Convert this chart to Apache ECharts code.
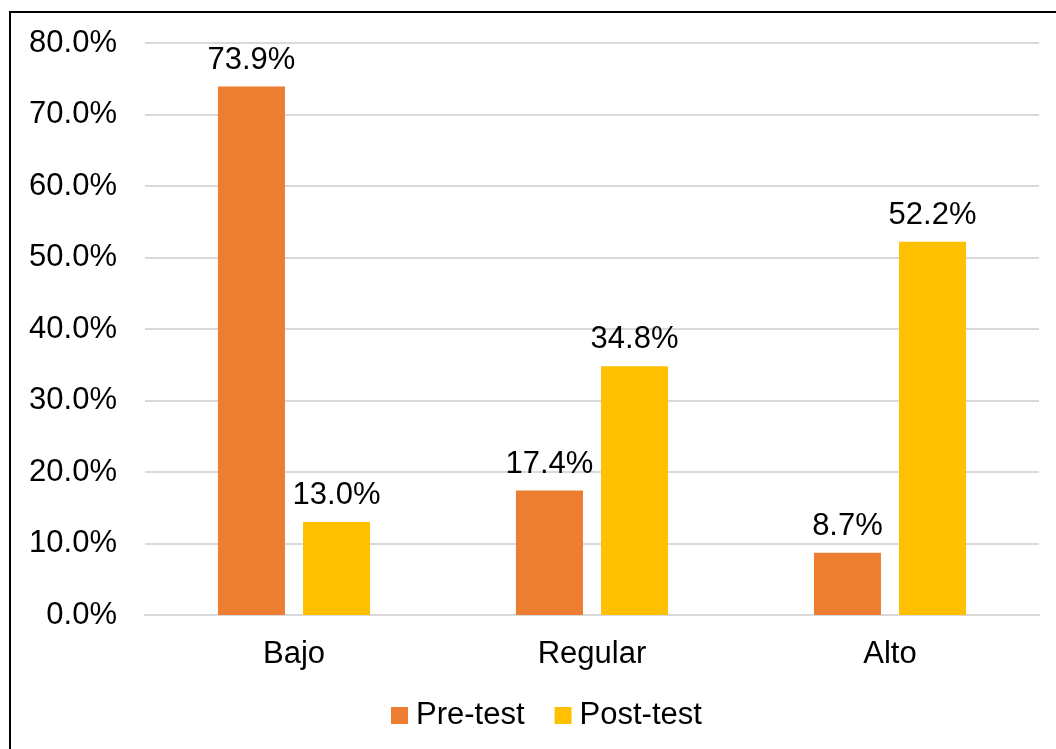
<!DOCTYPE html>
<html>
<head>
<meta charset="utf-8">
<script src="https://cdn.jsdelivr.net/npm/echarts@6/dist/echarts.min.js"></script>
<style>
  html, body { margin: 0; padding: 0; background: #fff; overflow: hidden; }
  #frame { position: absolute; left: 9px; top: 11px; width: 1200px; height: 900px; border: 2px solid #000; }
  #main { position: absolute; left: 0; top: 0; width: 1056px; height: 749px; }
</style>
</head>
<body>
<div id="frame"></div>
<div id="main"></div>
<script>
// datos del gráfico
const categories = ['Bajo', 'Regular', 'Alto'];
const seriesNames = ['Pre-test', 'Post-test'];
const preTest = [73.9, 17.4, 8.7];
const postTest = [13.0, 34.8, 52.2];

const chart = echarts.init(document.getElementById('main'));
const font = 'Liberation Sans, Arial, sans-serif';

const labelStyle = {
  show: true,
  position: 'top',
  distance: 11,
  color: '#000',
  fontFamily: font,
  fontSize: 31,
  formatter: p => p.value.toFixed(1) + '%'
};

chart.setOption({
  animation: false,
  grid: { left: 145, right: 17, top: 43, bottom: 134 },
  legend: {
    bottom: 13,
    left: 386,
    itemWidth: 17,
    itemHeight: 17,
    itemGap: 30,
    icon: 'rect',
    textStyle: { color: '#000', fontFamily: font, fontSize: 31, padding: [0, 0, 0, 3] },
    data: seriesNames
  },
  xAxis: {
    type: 'category',
    data: categories,
    axisLine: { show: true, lineStyle: { color: '#d9d9d9', width: 2 } },
    axisTick: { show: false },
    axisLabel: { color: '#000', fontFamily: font, fontSize: 31, margin: 24 }
  },
  yAxis: {
    type: 'value',
    min: 0,
    max: 80,
    interval: 10,
    axisLine: { show: false },
    axisTick: { show: false },
    splitLine: { lineStyle: { color: '#d9d9d9', width: 2 } },
    axisLabel: {
      color: '#000', fontFamily: font, fontSize: 31, margin: 28,
      formatter: v => v.toFixed(1) + '%'
    }
  },
  series: [
    {
      name: seriesNames[0],
      type: 'bar',
      data: preTest,
      barWidth: 67,
      barGap: '27%',
      itemStyle: { color: '#ED7D31' },
      label: labelStyle
    },
    {
      name: seriesNames[1],
      type: 'bar',
      data: postTest,
      barWidth: 67,
      itemStyle: { color: '#FFC000' },
      label: labelStyle
    }
  ]
});
</script>
</body>
</html>
